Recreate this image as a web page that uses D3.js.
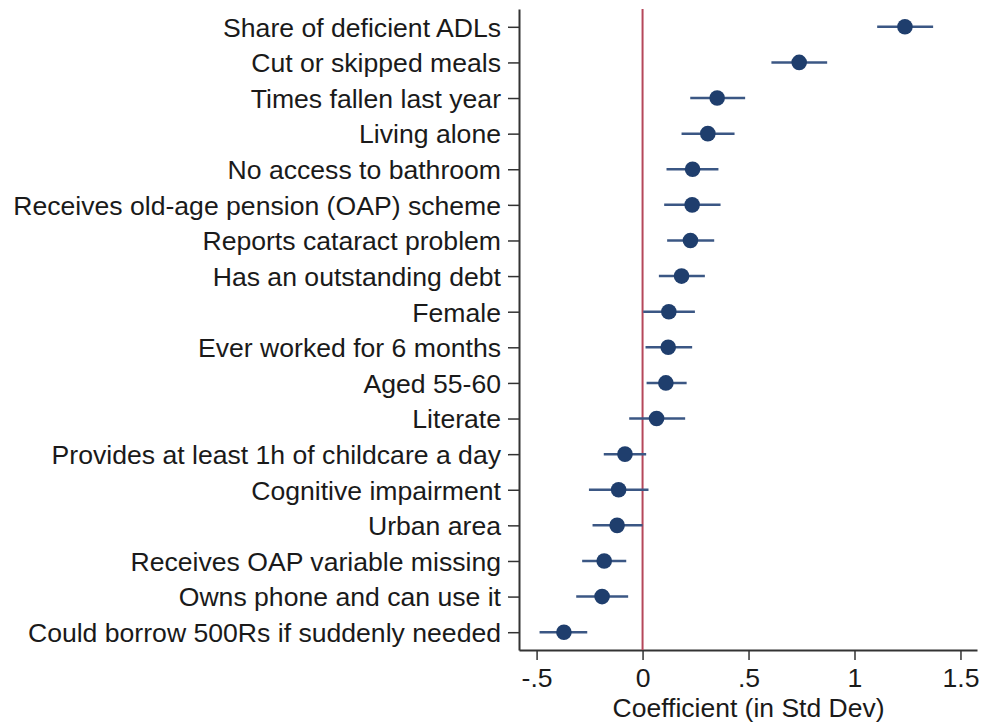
<!DOCTYPE html>
<html>
<head>
<meta charset="utf-8">
<script src="https://cdn.jsdelivr.net/npm/d3@7"></script>
<style>
  body { margin: 0; background: #fff; }
  svg text { font-family: "Liberation Sans", Arial, Helvetica, sans-serif; fill: #1a1a1a; }
</style>
</head>
<body>
<div id="chart"></div>
<script>
// Variables, top to bottom
var labels = [
    'Share of deficient ADLs',
    'Cut or skipped meals',
    'Times fallen last year',
    'Living alone',
    'No access to bathroom',
    'Receives old-age pension (OAP) scheme',
    'Reports cataract problem',
    'Has an outstanding debt',
    'Female',
    'Ever worked for 6 months',
    'Aged 55-60',
    'Literate',
    'Provides at least 1h of childcare a day',
    'Cognitive impairment',
    'Urban area',
    'Receives OAP variable missing',
    'Owns phone and can use it',
    'Could borrow 500Rs if suddenly needed'
];

// Point estimates and 95% CI bounds (in std dev)
var coefs = [1.238, 0.739, 0.352, 0.308, 0.236, 0.234, 0.226, 0.184, 0.124, 0.121, 0.110, 0.066, -0.083, -0.113, -0.120, -0.181, -0.191, -0.371];
var lower = [1.107, 0.608, 0.225, 0.184, 0.113, 0.102, 0.116, 0.077, 0.003, 0.014, 0.019, -0.063, -0.183, -0.253, -0.236, -0.285, -0.313, -0.486];
var upper = [1.371, 0.871, 0.484, 0.434, 0.358, 0.368, 0.338, 0.294, 0.247, 0.234, 0.208, 0.201, 0.017, 0.028, 0.000, -0.077, -0.068, -0.261];

var xTicks = [-0.5, 0, 0.5, 1, 1.5];
var xTickLabels = ['-.5', '0', '.5', '1', '1.5'];

var width = 985;
var height = 725;

var plotLeft = 519;
var plotRight = 977;
var plotTop = 9;
var plotBottom = 650;

var dotRadius = 7.8;

var svg = d3.select('#chart').append('svg')
    .attr('width', width)
    .attr('height', height);

var x = d3.scaleLinear()
    .domain([-0.583, 1.578])
    .range([plotLeft, plotRight]);

var y = d3.scalePoint()
    .domain(labels)
    .range([plotTop, plotBottom])
    .padding(0.5);

// y axis
var yAxis = svg.append('g')
    .attr('transform', 'translate(' + plotLeft + ',0)')
    .call(d3.axisLeft(y).tickSize(11).tickPadding(7).tickSizeOuter(0));
yAxis.select('.domain').attr('stroke', '#333').attr('stroke-width', 2);
yAxis.selectAll('.tick line').attr('stroke', '#333').attr('stroke-width', 1.5);
yAxis.selectAll('.tick text')
    .attr('font-size', '26.6px')
    .attr('fill', '#1a1a1a')
    .attr('dy', '0.35em');

// x axis
var xAxis = svg.append('g')
    .attr('transform', 'translate(0,' + plotBottom + ')')
    .call(d3.axisBottom(x)
        .tickValues(xTicks)
        .tickFormat(function (d, i) { return xTickLabels[i]; })
        .tickSize(10).tickPadding(8).tickSizeOuter(0));
xAxis.select('.domain').attr('stroke', '#333').attr('stroke-width', 2);
xAxis.selectAll('.tick line').attr('stroke', '#333').attr('stroke-width', 1.5);
xAxis.selectAll('.tick text')
    .attr('font-size', '26.6px')
    .attr('fill', '#1a1a1a');

svg.append('text')
    .attr('x', x(0.5))
    .attr('y', 717)
    .attr('text-anchor', 'middle')
    .attr('font-size', '26.5px')
    .text('Coefficient (in Std Dev)');

// reference line at zero
svg.append('line')
    .attr('x1', x(0))
    .attr('x2', x(0))
    .attr('y1', plotTop)
    .attr('y2', plotBottom)
    .attr('stroke', '#b5475a')
    .attr('stroke-width', 2);

// confidence intervals
svg.append('g').selectAll('line')
    .data(labels)
    .enter()
    .append('line')
    .attr('x1', function (d, i) { return x(lower[i]); })
    .attr('x2', function (d, i) { return x(upper[i]); })
    .attr('y1', function (d) { return y(d); })
    .attr('y2', function (d) { return y(d); })
    .attr('stroke', '#3b5784')
    .attr('stroke-width', 2.5);

// point estimates
svg.append('g').selectAll('circle')
    .data(labels)
    .enter()
    .append('circle')
    .attr('cx', function (d, i) { return x(coefs[i]); })
    .attr('cy', function (d) { return y(d); })
    .attr('r', dotRadius)
    .attr('fill', '#1f3e6d');
</script>
</body>
</html>
